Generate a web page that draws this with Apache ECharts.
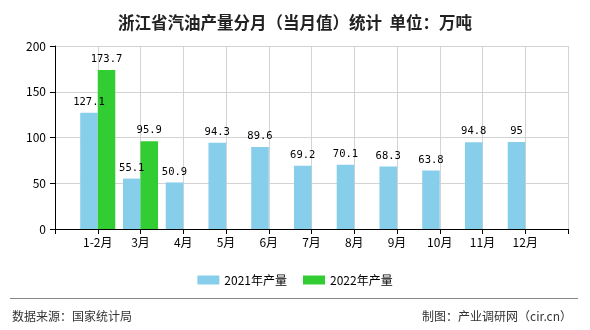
<!DOCTYPE html>
<html>
<head>
<meta charset="utf-8">
<script src="https://cdn.jsdelivr.net/npm/echarts@6/dist/echarts.min.js"></script>
<style>
  html, body { margin: 0; padding: 0; background: #fff; }
  #chart { width: 590px; height: 330px; }
</style>
</head>
<body>
<div id="chart"></div>
<script>
// Month categories; blank slots at both ends keep the axis padded by one step
const months = ['', '1-2月', '3月', '4月', '5月', '6月', '7月', '8月', '9月', '10月', '11月', '12月', ''];
const output2021 = [null, 127.1, 55.1, 50.9, 94.3, 89.6, 69.2, 70.1, 68.3, 63.8, 94.8, 95, null];
const output2022 = [null, 173.7, 95.9, null, null, null, null, null, null, null, null, null, null];
const seriesNames = ['2021年产量', '2022年产量'];
const yTicks = { min: 0, max: 200, interval: 50 };

const chart = echarts.init(document.getElementById('chart'), null, { renderer: 'canvas' });

const labelStyle = {
  show: true,
  position: 'top',
  distance: 5,
  color: '#000',
  fontSize: 10.5,
  fontFamily: '"DejaVu Sans Mono", monospace'
};

chart.setOption({
  animation: false,
  backgroundColor: '#fff',
  title: {
    text: '浙江省汽油产量分月（当月值）统计  单位：万吨',
    left: 'center',
    top: 9,
    textStyle: { fontSize: 16.5, fontWeight: 'bold', color: '#222', fontFamily: '"Noto Sans CJK SC", sans-serif' }
  },
  legend: {
    data: seriesNames,
    left: 'center',
    top: 269,
    itemWidth: 22,
    itemHeight: 9,
    itemGap: 16,
    icon: 'rect',
    textStyle: { fontSize: 12, color: '#000', fontFamily: '"Noto Sans CJK SC", sans-serif' }
  },
  grid: { left: 55, right: 22, top: 46, bottom: 101, containLabel: false },
  xAxis: {
    type: 'category',
    data: months,
    boundaryGap: false,
    axisLine: { lineStyle: { color: '#000', width: 1 } },
    axisTick: { show: true, length: 5, interval: 0, lineStyle: { color: '#000' } },
    axisLabel: { interval: 0, margin: 7, fontSize: 12, color: '#000', fontFamily: '"Noto Sans CJK SC", sans-serif' },
    splitLine: { show: true, interval: 0, lineStyle: { color: '#d3d3d3', width: 1 } }
  },
  yAxis: {
    type: 'value',
    min: yTicks.min,
    max: yTicks.max,
    interval: yTicks.interval,
    axisLine: { show: true, lineStyle: { color: '#000', width: 1 } },
    axisTick: { show: true, length: 5, lineStyle: { color: '#000' } },
    axisLabel: { margin: 9, fontSize: 12, color: '#000', fontFamily: '"Noto Sans CJK SC", sans-serif' },
    splitLine: { show: true, lineStyle: { color: '#d3d3d3', width: 1 } }
  },
  series: [
    {
      name: seriesNames[0],
      type: 'bar',
      data: output2021,
      barGap: '0%',
      barCategoryGap: '18%',
      itemStyle: { color: '#87CEEB' },
      label: labelStyle
    },
    {
      name: seriesNames[1],
      type: 'bar',
      data: output2022,
      barGap: '0%',
      barCategoryGap: '18%',
      itemStyle: { color: '#32CD32' },
      label: labelStyle
    }
  ],
  graphic: [
    {
      type: 'line',
      shape: { x1: 10, y1: 298.5, x2: 578, y2: 298.5 },
      style: { stroke: '#888', lineWidth: 1 }
    },
    {
      type: 'text',
      left: 12,
      top: 310,
      style: { text: '数据来源：国家统计局', fontSize: 12, fill: '#333', fontFamily: '"Noto Sans CJK SC", sans-serif' }
    },
    {
      type: 'text',
      right: 18,
      top: 310,
      style: { text: '制图：产业调研网（cir.cn）', fontSize: 12, fill: '#333', fontFamily: '"Noto Sans CJK SC", sans-serif' }
    }
  ]
});
</script>
</body>
</html>
